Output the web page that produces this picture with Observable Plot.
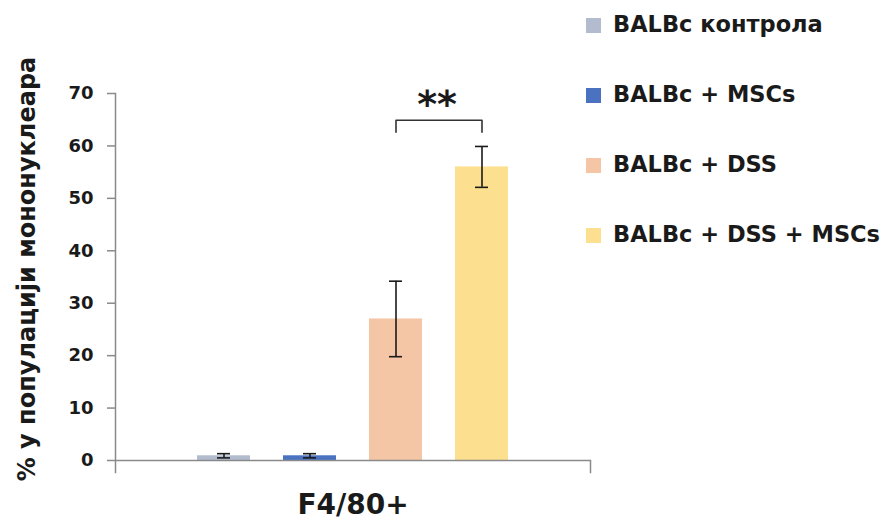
<!DOCTYPE html>
<html>
<head>
<meta charset="utf-8">
<script src="https://cdn.jsdelivr.net/npm/d3@7"></script>
<script src="https://cdn.jsdelivr.net/npm/@observablehq/plot@0.6"></script>
<style>
  html, body { margin: 0; padding: 0; background: #fff; }
  #wrap { position: relative; width: 882px; height: 526px; font-family: "DejaVu Sans", sans-serif; }
  #legend { position: absolute; left: 586px; top: 13px; display: flex; flex-direction: column; gap: 48px; }
  .row { display: flex; align-items: center; height: 22px; font-size: 22.5px; font-weight: bold; color: #1a1a1a; white-space: nowrap; }
  .sw { width: 15px; height: 15px; margin-right: 12px; margin-top: 2px; }
</style>
</head>
<body>
<div id="wrap"><div id="legend"></div></div>
<script>
const category = "F4/80+";
const groups = ["BALBc контрола", "BALBc + MSCs", "BALBc + DSS", "BALBc + DSS + MSCs"];
const values = [0.9, 0.9, 27.0, 56.0];
const errors = [0.4, 0.4, 7.2, 3.9];
const colors = ["#b3bccf", "#4a72c0", "#f5c6a6", "#fde08f"];
const yTicks = [0, 10, 20, 30, 40, 50, 60, 70];
const yLabel = "% у популацији мононуклеара";
const sigLabel = "**";
const sigPair = ["BALBc + DSS", "BALBc + DSS + MSCs"];
const sigLevels = [62.6, 64.9];

const data = groups.map((g, i) => ({cat: category, group: g, value: values[i], lo: values[i] - errors[i], hi: values[i] + errors[i]}));
const bracket = [
  {cat: category, group: sigPair[0], v: sigLevels[0]},
  {cat: category, group: sigPair[0], v: sigLevels[1]},
  {cat: category, group: sigPair[1], v: sigLevels[1]},
  {cat: category, group: sigPair[1], v: sigLevels[0]}
];

const axisGray = "#8a8a8a";
const ink = "#1a1a1a";

const chart = Plot.plot({
  width: 882,
  height: 526,
  marginLeft: 115,
  marginRight: 292,
  marginTop: 93,
  marginBottom: 66,
  style: {fontFamily: "DejaVu Sans, sans-serif", background: "transparent"},
  fx: {domain: [category], padding: 0, label: null},
  x: {domain: groups, paddingInner: 0.38, paddingOuter: 0.95, axis: null},
  y: {domain: [0, 70]},
  color: {domain: groups, range: colors},
  marks: [
    Plot.barY(data, {fx: "cat", x: "group", y: "value", fill: "group"}),
    Plot.ruleY([0], {stroke: axisGray, strokeWidth: 1.5}),
    Plot.frame({anchor: "left", stroke: axisGray, strokeWidth: 1.5, insetBottom: -12}),
    Plot.frame({anchor: "right", stroke: axisGray, strokeWidth: 1.5, insetBottom: -12, insetTop: 367}),
    Plot.ruleX(data, {fx: "cat", x: "group", y1: "lo", y2: "hi", stroke: ink, strokeWidth: 1.6}),
    Plot.tickY(data, {fx: "cat", x: "group", y: "hi", stroke: ink, strokeWidth: 1.6, insetLeft: 20, insetRight: 20}),
    Plot.tickY(data, {fx: "cat", x: "group", y: "lo", stroke: ink, strokeWidth: 1.6, insetLeft: 20, insetRight: 20}),
    Plot.line(bracket, {fx: "cat", x: "group", y: "v", stroke: "#333", strokeWidth: 1.6}),
    Plot.text([sigLabel], {fx: [category], x: [sigPair[0]], y: [sigLevels[1]], text: d => d, dx: 41, dy: -3, lineAnchor: "bottom", fontSize: 38, fontWeight: "bold", fill: ink}),
    Plot.axisY({ticks: yTicks, tickSize: 8, tickPadding: 14, fontSize: 18, fontWeight: "bold", stroke: axisGray, strokeWidth: 1.5, fill: ink, label: null}),
    Plot.axisFx({anchor: "bottom", tickSize: 0, tickPadding: 34, fontSize: 28, fontWeight: "bold", fill: ink, label: null}),
    Plot.text([yLabel], {frameAnchor: "left", rotate: -90, dx: -88, dy: -8, lineAnchor: "middle", textAnchor: "middle", fontSize: 24, fontWeight: "bold", fill: ink})
  ]
});
const wrap = document.getElementById("wrap");
wrap.insertBefore(chart, wrap.firstChild);

const colorScale = chart.scale("color");
const legend = document.getElementById("legend");
groups.forEach((g, i) => {
  const row = document.createElement("div");
  row.className = "row";
  const sw = document.createElement("span");
  sw.className = "sw";
  sw.style.background = colorScale.range[i];
  const t = document.createElement("span");
  t.textContent = g;
  row.appendChild(sw);
  row.appendChild(t);
  legend.appendChild(row);
});
</script>
</body>
</html>
